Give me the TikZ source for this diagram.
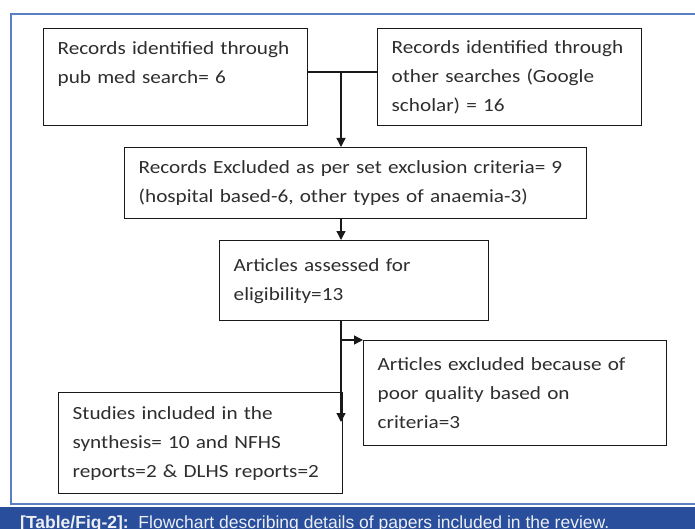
\documentclass[tikz,border=0pt]{standalone}
\usepackage{fontspec}
\setmainfont{Carlito}[FakeStretch=1.14,WordSpace=0.55]
\newfontfamily\capfont{Liberation Sans}
\usepackage{tikz}
\usetikzlibrary{arrows.meta}

\definecolor{frameblue}{HTML}{5B7FC3}
\definecolor{capblue}{HTML}{284E9C}
\definecolor{captext}{HTML}{ECEEF4}

\tikzset{
	box/.style={rectangle,draw=black!90,line width=1.4pt,anchor=north west,align=left,
		inner xsep=14pt,inner ysep=0pt,text=black!82,font=\fontsize{18.6}{29}\selectfont},
	flow/.style={black!90,line width=1.3pt,-{Triangle[length=9pt,width=9pt]}}
}

\begin{document}
\begin{tikzpicture}[x=1pt,y=-1pt]
	
		\useasboundingbox (0,0) rectangle (695,529);
		\clip (0,0) rectangle (695,529);
		\fill[white] (0,0) rectangle (695,529);
		\draw[frameblue,line width=1.5pt] (11,14) rectangle (710,504);
		
		\node[box,text width=236pt,minimum height=97pt] (pubmed) at (43,28)
			{Records identified through\\pub med search= 6\\\phantom{x}};
		\node[box,text width=236pt,minimum height=97pt] (other) at (377,28)
			{Records identified through\\other searches (Google\\scholar) = 16};
		\node[box,text width=434pt,minimum height=71pt] (excl) at (124,147)
			{Records Excluded as per set exclusion criteria= 9\\(hospital based-6, other types of anaemia-3)};
		\node[box,text width=241pt,minimum height=80pt] (assess) at (219,240)
			{Articles assessed for\\eligibility=13};
		\node[box,text width=275pt,minimum height=105pt] (poor) at (363,340)
			{Articles excluded because of\\poor quality based on\\criteria=3};
		\node[box,text width=256pt,minimum height=101pt] (incl) at (58,392)
			{Studies included in the\\synthesis= 10 and NFHS\\reports=2 \& DLHS reports=2};
		
		\coordinate (join) at (341,72);
		\coordinate (fork) at (341,340);
		\coordinate (tip) at (341,422);
		
		\draw[black!90,line width=1.3pt] (pubmed.east |- join) -- (other.west |- join);
		\draw[flow] (join) -- (excl.north -| join);
		\draw[flow] (excl.south -| join) -- (assess.north -| join);
		\draw[flow] (assess.south -| tip) -- (tip);
		\draw[flow] (fork) -- (poor.north west);
		
		\fill[capblue] (0,507) rectangle (695,529);
		\node[anchor=base west,inner sep=0pt,text=captext,
			font=\capfont\fontsize{17.5}{20}\selectfont] (caption) at (20,528.5)
			{\textbf{[Table/Fig-2]:}\ \ Flowchart describing details of papers included in the review.};
		
	\end{tikzpicture}
\end{document}
